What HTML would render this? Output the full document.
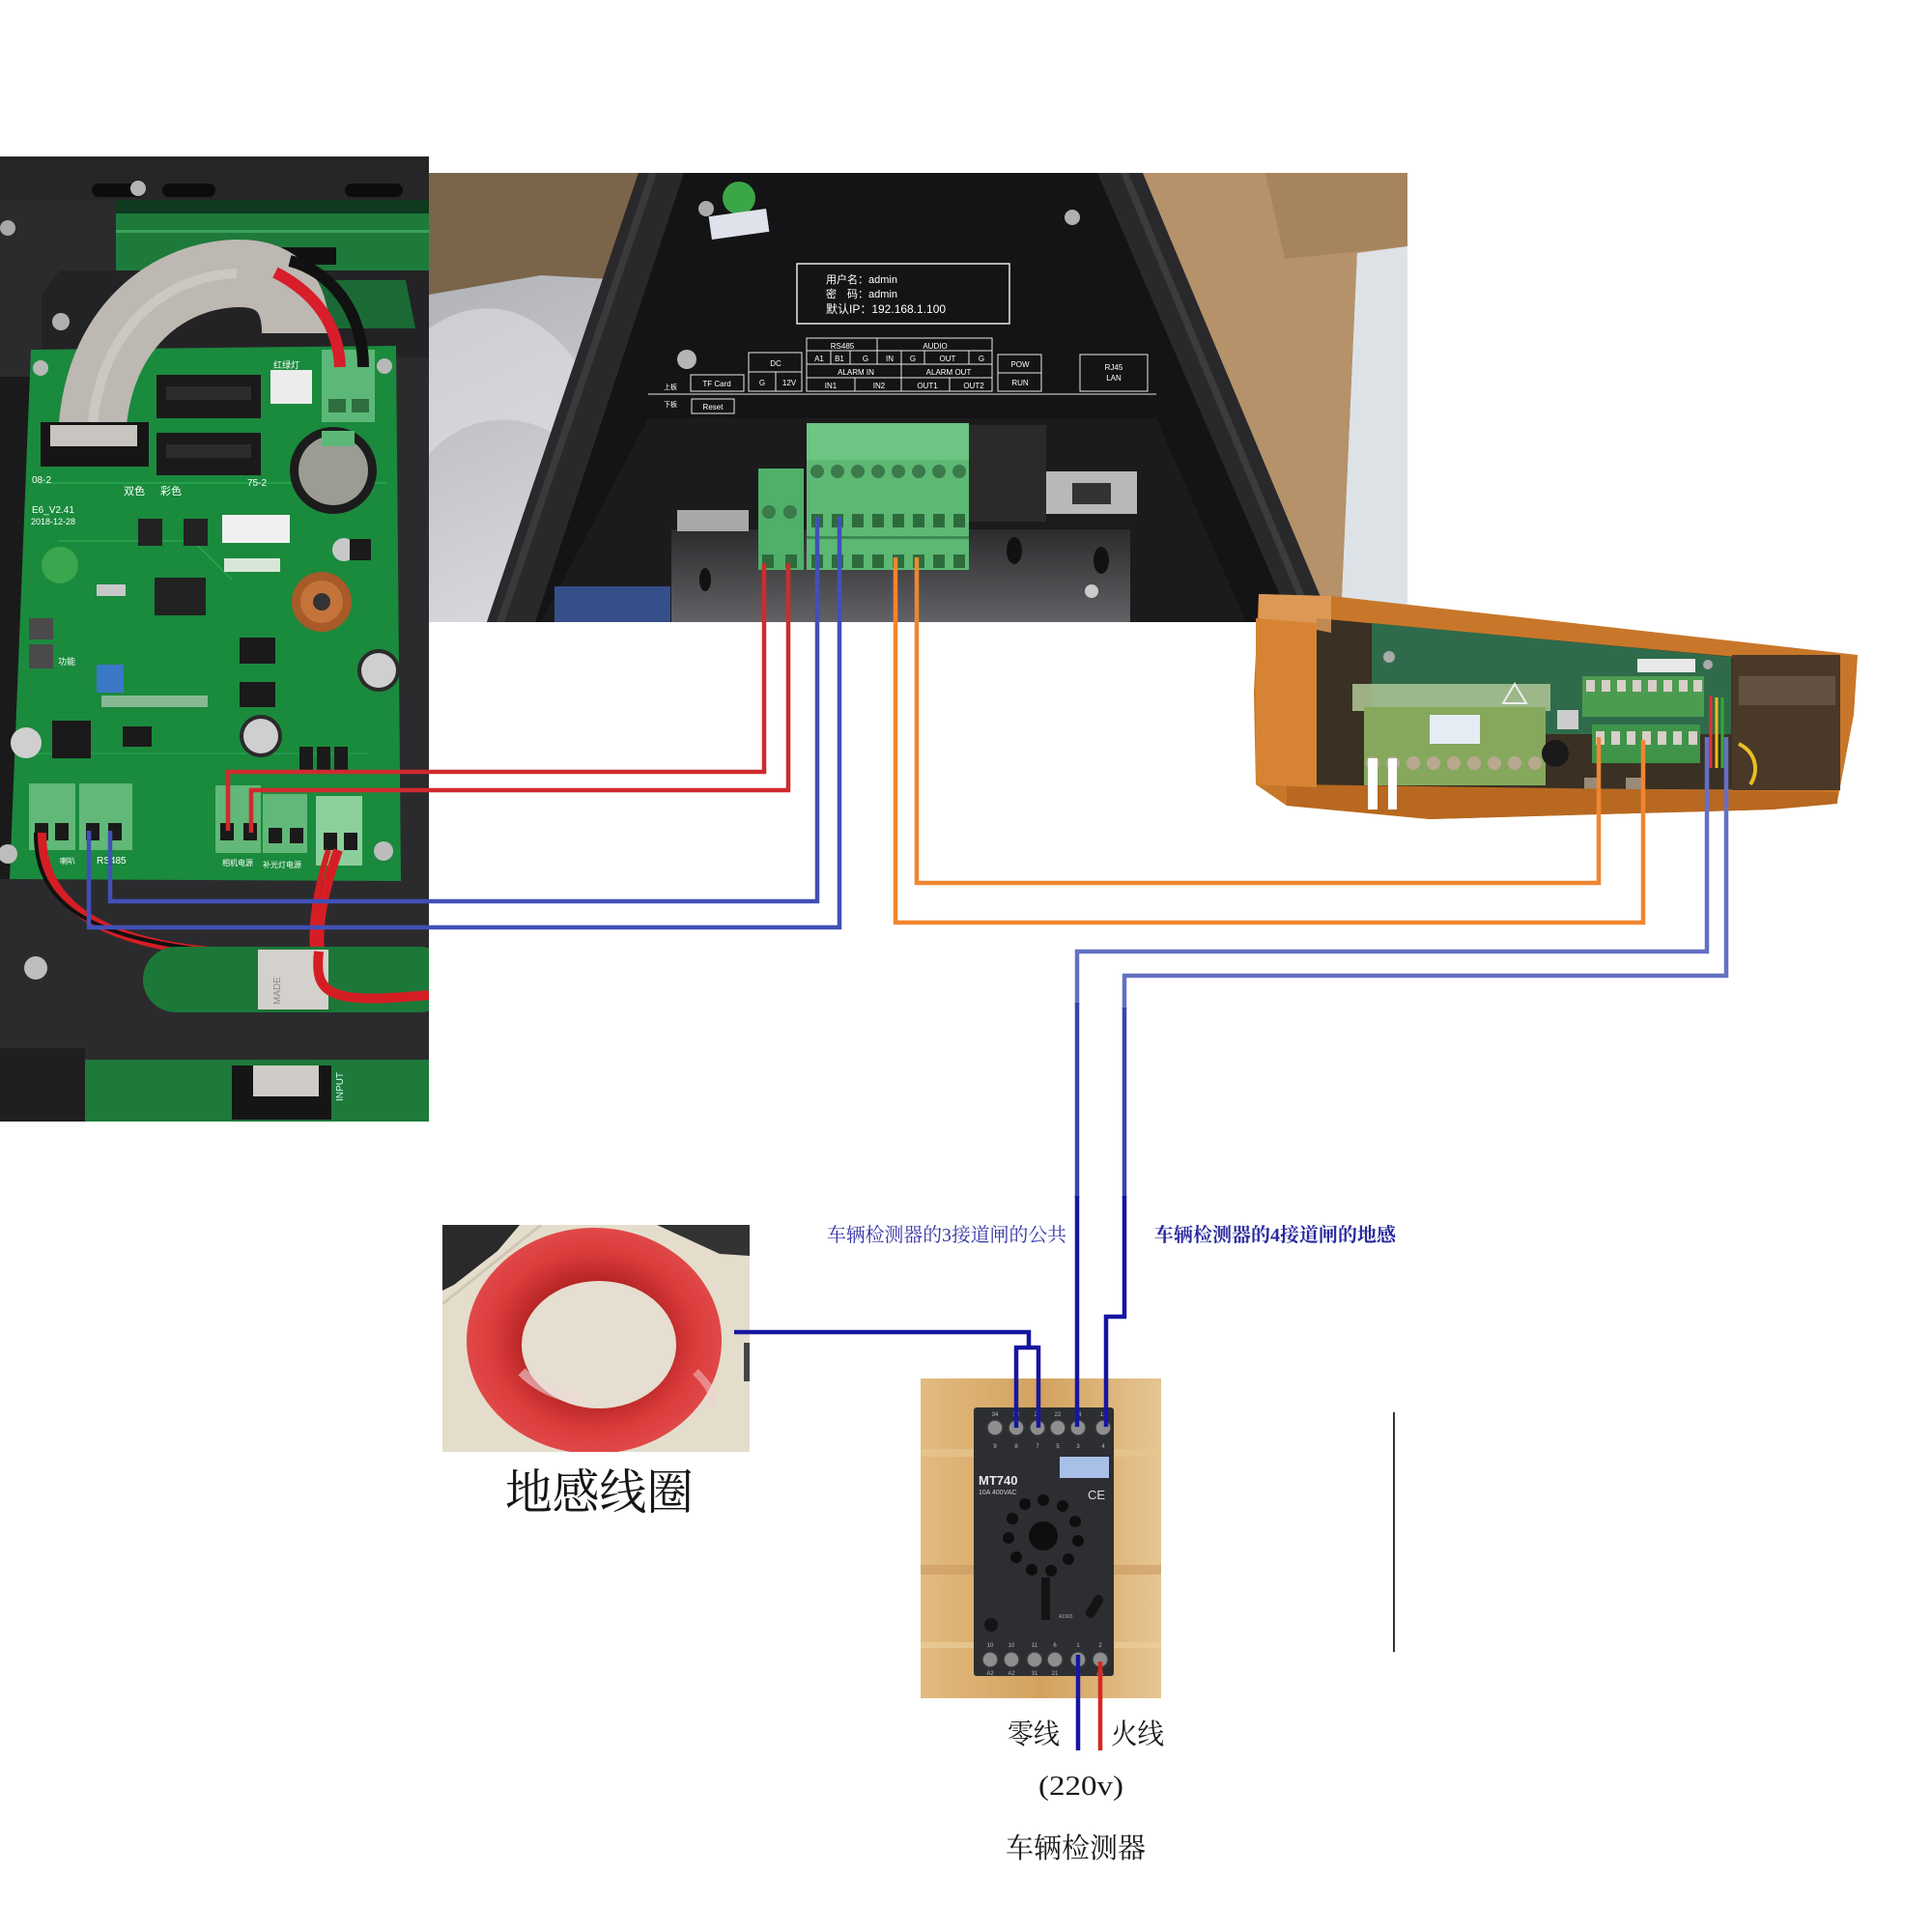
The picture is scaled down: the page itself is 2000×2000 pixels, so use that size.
<!DOCTYPE html>
<html><head><meta charset="utf-8">
<style>
html,body{margin:0;padding:0;background:#fff;}
svg{display:block}
</style></head>
<body>
<svg width="2000" height="2000" viewBox="0 0 2000 2000" xmlns="http://www.w3.org/2000/svg" font-family="'Liberation Sans','Noto Sans CJK SC',sans-serif">
<defs>
  <clipPath id="cb"><rect x="0" y="162" width="444" height="999"/></clipPath>
  <clipPath id="cc"><rect x="444" y="179" width="1013" height="465"/></clipPath>
  <clipPath id="cl"><rect x="458" y="1268" width="318" height="235"/></clipPath>
  <clipPath id="cr"><rect x="953" y="1427" width="249" height="331"/></clipPath>
  <linearGradient id="bag" x1="0" y1="0" x2="1" y2="1">
    <stop offset="0" stop-color="#a6a8ae"/><stop offset="0.5" stop-color="#d4d5d9"/><stop offset="1" stop-color="#eeeef0"/>
  </linearGradient>
  <linearGradient id="wood" x1="0" y1="0" x2="1" y2="0">
    <stop offset="0" stop-color="#e2bb80"/><stop offset="0.5" stop-color="#d3a25e"/><stop offset="1" stop-color="#e6c592"/>
  </linearGradient>
  <linearGradient id="plate" x1="0" y1="0" x2="0" y2="1">
    <stop offset="0" stop-color="#2c2c2e"/><stop offset="1" stop-color="#626266"/>
  </linearGradient>
  <radialGradient id="coil" cx="0.5" cy="0.5" r="0.5">
    <stop offset="0.55" stop-color="#b82626"/><stop offset="0.8" stop-color="#dc3c3c"/><stop offset="1" stop-color="#e04848"/>
  </radialGradient>
</defs>

<rect width="2000" height="2000" fill="#ffffff"/>

<!-- ================= LEFT BOARD PHOTO ================= -->
<g clip-path="url(#cb)">
  <rect x="0" y="162" width="444" height="999" fill="#2b2b2e"/>
  <rect x="0" y="162" width="444" height="45" fill="#262628"/>
  <rect x="95" y="190" width="55" height="14" rx="7" fill="#0c0c0c"/>
  <rect x="168" y="190" width="55" height="14" rx="7" fill="#0c0c0c"/>
  <rect x="357" y="190" width="60" height="14" rx="7" fill="#0c0c0c"/>
  <circle cx="143" cy="195" r="8" fill="#b4b4b4"/>
  <circle cx="8" cy="236" r="8" fill="#a8a8a8"/>
  <rect x="120" y="207" width="324" height="76" fill="#1e7a3b"/>
  <rect x="120" y="207" width="324" height="14" fill="#0f3a1f"/>
  <rect x="120" y="238" width="324" height="3" fill="#3aa35a"/>
  <rect x="258" y="256" width="90" height="18" fill="#111"/>
  <path d="M43 305 L62 280 L444 280 L444 370 L43 370 Z" fill="#232325"/>
  <path d="M290 290 L420 290 L430 340 L300 340 Z" fill="#1b6a35"/>
  <circle cx="63" cy="333" r="9" fill="#b0b0b0"/>
  <rect x="0" y="390" width="32" height="520" fill="#1a1a1b"/>
  <path d="M32 362 L410 358 L415 912 L10 910 Z" fill="#1a8a3d"/>
  <path d="M40 500 L400 500" stroke="#24a04a" stroke-width="2"/>
  <path d="M60 560 L200 560 L240 600" stroke="#24a04a" stroke-width="2" fill="none"/>
  <path d="M30 780 L380 780" stroke="#22984a" stroke-width="2"/>
  <circle cx="398" cy="379" r="8" fill="#b8b8b8"/>
  <circle cx="42" cy="381" r="8" fill="#b8b8b8"/>
  <path d="M95 470 C 92 345, 170 285, 245 283 C 292 282, 306 310, 306 345" stroke="#bdb8b2" stroke-width="70" fill="none"/>
  <path d="M95 470 C 92 345, 170 285, 245 283" stroke="#d6d2cc" stroke-width="10" fill="none" opacity="0.6"/>
  <rect x="42" y="437" width="112" height="46" fill="#151515"/>
  <rect x="52" y="440" width="90" height="22" fill="#c8c4c0"/>
  <rect x="162" y="388" width="108" height="45" fill="#1a1a1a"/>
  <rect x="162" y="448" width="108" height="44" fill="#1a1a1a"/>
  <rect x="172" y="400" width="88" height="14" fill="#2c2c2c"/>
  <rect x="172" y="460" width="88" height="14" fill="#2c2c2c"/>
  <rect x="280" y="383" width="43" height="35" fill="#ececec"/>
  <rect x="333" y="362" width="55" height="75" fill="#5cb878"/>
  <rect x="340" y="413" width="18" height="14" fill="#2f6e3e"/>
  <rect x="364" y="413" width="18" height="14" fill="#2f6e3e"/>
  <path d="M352 380 C 350 330, 320 300, 285 282" stroke="#d81e2a" stroke-width="12" fill="none"/>
  <path d="M376 380 C 376 320, 340 280, 300 270" stroke="#111" stroke-width="12" fill="none"/>
  <circle cx="345" cy="487" r="45" fill="#1c1c1c"/>
  <circle cx="345" cy="487" r="36" fill="#9c9c94"/>
  <rect x="333" y="446" width="34" height="16" fill="#5cb878"/>
  <rect x="230" y="533" width="70" height="29" fill="#f0f0f0"/>
  <rect x="143" y="537" width="25" height="28" fill="#222"/>
  <rect x="190" y="537" width="25" height="28" fill="#222"/>
  <rect x="160" y="598" width="53" height="39" fill="#222"/>
  <rect x="232" y="578" width="58" height="14" fill="#d8e6d8"/>
  <rect x="100" y="605" width="30" height="12" fill="#c8c8c8"/>
  <circle cx="333" cy="623" r="31" fill="#a85a28"/>
  <circle cx="333" cy="623" r="22" fill="#c4743a"/>
  <circle cx="333" cy="623" r="9" fill="#333"/>
  <circle cx="356" cy="569" r="12" fill="#c8c8c8"/>
  <rect x="362" y="558" width="22" height="22" fill="#1a1a1a"/>
  <text x="33" y="500" font-size="10" fill="#fff">08-2</text>
  <text x="128" y="512" font-size="11" fill="#fff">双色</text>
  <text x="166" y="512" font-size="11" fill="#fff">彩色</text>
  <text x="256" y="503" font-size="10" fill="#fff">75-2</text>
  <text x="283" y="381" font-size="9" fill="#fff">红绿灯</text>
  <text x="33" y="531" font-size="10" fill="#fff">E6_V2.41</text>
  <text x="32" y="543" font-size="9" fill="#fff">2018-12-28</text>
  <circle cx="62" cy="585" r="19" fill="#3aa64e"/>
  <rect x="30" y="667" width="25" height="25" fill="#4a4a4a"/>
  <rect x="30" y="640" width="25" height="22" fill="#4a4a4a"/>
  <text x="60" y="688" font-size="9" fill="#fff">功能</text>
  <rect x="100" y="688" width="28" height="29" fill="#3a78c8"/>
  <circle cx="392" cy="694" r="22" fill="#2a2a2a"/>
  <circle cx="392" cy="694" r="18" fill="#cfcfcf"/>
  <circle cx="270" cy="762" r="22" fill="#2a2a2a"/>
  <circle cx="270" cy="762" r="18" fill="#cfcfcf"/>
  <circle cx="27" cy="769" r="16" fill="#cfcfcf"/>
  <rect x="54" y="746" width="40" height="39" fill="#1a1a1a"/>
  <rect x="127" y="752" width="30" height="21" fill="#1a1a1a"/>
  <rect x="248" y="660" width="37" height="27" fill="#1a1a1a"/>
  <rect x="248" y="706" width="37" height="26" fill="#1a1a1a"/>
  <rect x="310" y="773" width="14" height="24" fill="#1a1a1a"/>
  <rect x="328" y="773" width="14" height="24" fill="#1a1a1a"/>
  <rect x="346" y="773" width="14" height="24" fill="#1a1a1a"/>
  <rect x="105" y="720" width="110" height="12" fill="#cfd8cf" opacity="0.6"/>
  <rect x="30" y="811" width="48" height="69" fill="#62b878"/>
  <rect x="82" y="811" width="55" height="69" fill="#62b878"/>
  <rect x="223" y="813" width="47" height="70" fill="#62b878"/>
  <rect x="272" y="822" width="46" height="61" fill="#62b878"/>
  <rect x="327" y="824" width="48" height="72" fill="#8ccf9c"/>
  <rect x="36" y="852" width="14" height="18" fill="#1a1a1a"/><rect x="57" y="852" width="14" height="18" fill="#1a1a1a"/>
  <rect x="89" y="852" width="14" height="18" fill="#1a1a1a"/><rect x="112" y="852" width="14" height="18" fill="#1a1a1a"/>
  <rect x="228" y="852" width="14" height="18" fill="#1a1a1a"/><rect x="252" y="852" width="14" height="18" fill="#1a1a1a"/>
  <rect x="278" y="857" width="14" height="16" fill="#1a1a1a"/><rect x="300" y="857" width="14" height="16" fill="#1a1a1a"/>
  <rect x="335" y="862" width="14" height="18" fill="#1a1a1a"/><rect x="356" y="862" width="14" height="18" fill="#1a1a1a"/>
  <text x="62" y="894" font-size="8" fill="#fff">喇叭</text>
  <text x="100" y="894" font-size="10" fill="#fff">RS485</text>
  <text x="230" y="896" font-size="8" fill="#fff">相机电源</text>
  <text x="272" y="898" font-size="8" fill="#fff">补光灯电源</text>
  <circle cx="8" cy="884" r="10" fill="#bdbdbd"/>
  <circle cx="397" cy="881" r="10" fill="#bdbdbd"/>
  <path d="M43 862 C 42 940, 110 975, 217 985" stroke="#d41e24" stroke-width="10" fill="none"/>
  <path d="M37 862 C 36 940, 100 968, 200 982" stroke="#111" stroke-width="4" fill="none"/>
  <path d="M350 880 C 325 950, 318 1020, 365 1025 L444 1015" stroke="#d41e24" stroke-width="10" fill="none"/>
  <path d="M340 880 C 318 950, 312 1025, 360 1032 L444 1024" stroke="#d41e24" stroke-width="6" fill="none"/>
  <circle cx="37" cy="1002" r="12" fill="#bdbdbd"/>
  <rect x="148" y="980" width="320" height="68" rx="34" fill="#1c7838"/>
  <rect x="267" y="983" width="73" height="62" fill="#d4d0cb"/>
  <path d="M330 985 C 325 1030, 340 1040, 444 1030" stroke="#d41e24" stroke-width="10" fill="none"/>
  <rect x="88" y="1097" width="356" height="64" fill="#1d7a3a"/>
  <rect x="0" y="1085" width="88" height="76" fill="#1f1f21"/>
  <rect x="240" y="1103" width="103" height="56" fill="#151515"/>
  <rect x="262" y="1103" width="68" height="32" fill="#cfcbc6"/>
  <text x="355" y="1140" font-size="10" fill="#cfe" transform="rotate(-90 355 1140)">INPUT</text>
  <text x="290" y="1040" font-size="10" fill="#888" transform="rotate(-90 290 1040)">MADE</text>
</g>

<!-- ================= CAMERA PHOTO ================= -->
<g clip-path="url(#cc)">
  <rect x="444" y="179" width="1013" height="465" fill="url(#bag)"/>
  <path d="M444 179 L665 179 L650 290 L560 285 L444 305 Z" fill="#7a654a"/>
  <path d="M444 340 C 500 300, 560 320, 600 380 L 590 460 C 540 420, 480 430, 444 470 Z" fill="#e6e6ea" opacity="0.5"/>
  <path d="M444 179 L1183 179 L1378 644 L504 644 Z" fill="none"/>
  <path d="M661 179 L1183 179 L1378 644 L504 644 Z" fill="#141416"/>
  <path d="M661 179 L708 179 L554 644 L504 644 Z" fill="#29292b"/>
  <path d="M672 179 L680 179 L522 644 L514 644 Z" fill="#3a3a3c"/>
  <path d="M1136 179 L1183 179 L1378 644 L1337 644 Z" fill="#29292b"/>
  <path d="M1160 179 L1168 179 L1362 644 L1354 644 Z" fill="#3c3c3e"/>
  <path d="M1183 179 L1457 179 L1457 255 L1405 262 L1388 644 L1378 644 Z" fill="#b5926a"/>
  <path d="M1310 179 L1457 179 L1457 255 L1330 268 Z" fill="#a6845e"/>
  <path d="M1405 262 L1457 255 L1457 644 L1388 644 Z" fill="#dde2e7"/>
  <circle cx="765" cy="205" r="17" fill="#3aa648"/>
  <rect x="735" y="220" width="60" height="24" fill="#dfe2ea" transform="rotate(-8 765 232)"/>
  <circle cx="731" cy="216" r="8" fill="#aaa"/>
  <circle cx="1110" cy="225" r="8" fill="#b0b0b0"/>
  <circle cx="711" cy="372" r="10" fill="#b5b5b5"/>
  <rect x="825" y="273" width="220" height="62" fill="none" stroke="#e8e8e8" stroke-width="1.5"/>
  <text x="855" y="293" font-size="11" fill="#fff">用户名：admin</text>
  <text x="855" y="308" font-size="11" fill="#fff">密　码：admin</text>
  <text x="855" y="324" font-size="12" fill="#fff">默认IP：192.168.1.100</text>
  <g stroke="#e8e8e8" stroke-width="1" fill="none">
    <rect x="835" y="350" width="192" height="55"/>
    <line x1="835" y1="363" x2="1027" y2="363"/>
    <line x1="835" y1="377" x2="1027" y2="377"/>
    <line x1="835" y1="391" x2="1027" y2="391"/>
    <line x1="908" y1="350" x2="908" y2="363"/>
    <line x1="860" y1="363" x2="860" y2="377"/><line x1="880" y1="363" x2="880" y2="377"/>
    <line x1="908" y1="363" x2="908" y2="377"/><line x1="933" y1="363" x2="933" y2="377"/>
    <line x1="957" y1="363" x2="957" y2="377"/><line x1="1003" y1="363" x2="1003" y2="377"/>
    <line x1="933" y1="377" x2="933" y2="391"/>
    <line x1="885" y1="391" x2="885" y2="405"/><line x1="933" y1="391" x2="933" y2="405"/><line x1="983" y1="391" x2="983" y2="405"/>
    <rect x="775" y="365" width="55" height="40"/>
    <line x1="775" y1="385" x2="830" y2="385"/><line x1="803" y1="385" x2="803" y2="405"/>
    <rect x="1033" y="367" width="45" height="38"/>
    <line x1="1033" y1="386" x2="1078" y2="386"/>
    <rect x="1118" y="367" width="70" height="38"/>
    <rect x="715" y="388" width="55" height="17"/>
    <rect x="716" y="413" width="44" height="15"/>
    <line x1="671" y1="408" x2="1197" y2="408"/>
  </g>
  <g font-size="8" fill="#fff" text-anchor="middle">
    <text x="872" y="361">RS485</text><text x="968" y="361">AUDIO</text>
    <text x="848" y="374">A1</text><text x="869" y="374">B1</text><text x="896" y="374">G</text>
    <text x="921" y="374">IN</text><text x="945" y="374">G</text><text x="981" y="374">OUT</text><text x="1016" y="374">G</text>
    <text x="886" y="388">ALARM IN</text><text x="982" y="388">ALARM OUT</text>
    <text x="860" y="402">IN1</text><text x="910" y="402">IN2</text><text x="960" y="402">OUT1</text><text x="1008" y="402">OUT2</text>
    <text x="803" y="379">DC</text><text x="789" y="399">G</text><text x="817" y="399">12V</text>
    <text x="1056" y="380">POW</text><text x="1056" y="399">RUN</text>
    <text x="1153" y="383">RJ45</text><text x="1153" y="394">LAN</text>
    <text x="742" y="400">TF Card</text><text x="738" y="424">Reset</text>
    <text x="694" y="403" font-size="7">上板</text><text x="694" y="421" font-size="7">下板</text>
  </g>
  <path d="M671 433 L1197 433 L1290 644 L560 644 Z" fill="#1b1b1c"/>
  <rect x="695" y="548" width="475" height="96" fill="url(#plate)"/>
  <rect x="701" y="528" width="74" height="22" fill="#a8a8a8"/>
  <rect x="1003" y="440" width="80" height="100" fill="#2a2a28"/>
  <rect x="1083" y="488" width="94" height="44" fill="#b8b8b8"/>
  <rect x="1110" y="500" width="40" height="22" fill="#333"/>
  <ellipse cx="1050" cy="570" rx="8" ry="14" fill="#111"/>
  <ellipse cx="1140" cy="580" rx="8" ry="14" fill="#111"/>
  <circle cx="1130" cy="612" r="7" fill="#ccc"/>
  <ellipse cx="730" cy="600" rx="6" ry="12" fill="#111"/>
  <rect x="574" y="607" width="120" height="37" fill="#3c5ca8" opacity="0.8"/>
  <rect x="835" y="438" width="168" height="152" fill="#5db874"/>
  <rect x="835" y="438" width="168" height="38" fill="#6cc583"/>
  <g fill="#3b7a4b">
    <circle cx="846" cy="488" r="7"/><circle cx="867" cy="488" r="7"/><circle cx="888" cy="488" r="7"/><circle cx="909" cy="488" r="7"/>
    <circle cx="930" cy="488" r="7"/><circle cx="951" cy="488" r="7"/><circle cx="972" cy="488" r="7"/><circle cx="993" cy="488" r="7"/>
  </g>
  <g fill="#2e6b3c">
    <rect x="840" y="532" width="12" height="14"/><rect x="861" y="532" width="12" height="14"/><rect x="882" y="532" width="12" height="14"/><rect x="903" y="532" width="12" height="14"/>
    <rect x="924" y="532" width="12" height="14"/><rect x="945" y="532" width="12" height="14"/><rect x="966" y="532" width="12" height="14"/><rect x="987" y="532" width="12" height="14"/>
    <rect x="840" y="574" width="12" height="14"/><rect x="861" y="574" width="12" height="14"/><rect x="882" y="574" width="12" height="14"/><rect x="903" y="574" width="12" height="14"/>
    <rect x="924" y="574" width="12" height="14"/><rect x="945" y="574" width="12" height="14"/><rect x="966" y="574" width="12" height="14"/><rect x="987" y="574" width="12" height="14"/>
  </g>
  <rect x="835" y="555" width="168" height="3" fill="#3e8a52"/>
  <rect x="785" y="485" width="47" height="105" fill="#4fb06a"/>
  <circle cx="796" cy="530" r="7" fill="#3b7a4b"/><circle cx="818" cy="530" r="7" fill="#3b7a4b"/>
  <rect x="789" y="574" width="12" height="14" fill="#2e6b3c"/><rect x="813" y="574" width="12" height="14" fill="#2e6b3c"/>
</g>

<!-- ================= ORANGE DEVICE ================= -->
<g>
  <path d="M1303 615 L1378 617 L1923 678 L1919 740 L1902 830 L1835 838 L1480 848 L1332 834 L1300 812 L1298 717 Z" fill="#c8772a"/>
  <path d="M1363 640 L1905 690 L1902 818 L1363 815 Z" fill="#3a3024"/>
  <path d="M1420 645 L1792 680 L1792 760 L1420 760 Z" fill="#2f6b4b"/>
  <path d="M1303 615 L1378 617 L1378 655 L1303 640 Z" fill="#e4a060" opacity="0.8"/>
  <rect x="1400" y="708" width="205" height="28" fill="#a8c090" opacity="0.9"/>
  <rect x="1412" y="732" width="188" height="81" fill="#86a85c"/>
  <rect x="1480" y="740" width="52" height="30" fill="#e6ecf4"/>
  <g fill="#b8a890">
    <circle cx="1421" cy="790" r="7"/><circle cx="1442" cy="790" r="7"/><circle cx="1463" cy="790" r="7"/><circle cx="1484" cy="790" r="7"/>
    <circle cx="1505" cy="790" r="7"/><circle cx="1526" cy="790" r="7"/><circle cx="1547" cy="790" r="7"/><circle cx="1568" cy="790" r="7"/><circle cx="1589" cy="790" r="7"/>
  </g>
  <path d="M1568 708 L1580 728 L1556 728 Z" fill="none" stroke="#eee" stroke-width="2"/>
  <rect x="1612" y="735" width="22" height="20" fill="#ccc"/>
  <circle cx="1610" cy="780" r="14" fill="#1a1a1a"/>
  <rect x="1638" y="700" width="126" height="42" fill="#4c9c50"/>
  <rect x="1648" y="750" width="112" height="40" fill="#3f9449"/>
  <g fill="#d8cfc8">
    <rect x="1642" y="704" width="9" height="12"/><rect x="1658" y="704" width="9" height="12"/><rect x="1674" y="704" width="9" height="12"/><rect x="1690" y="704" width="9" height="12"/>
    <rect x="1706" y="704" width="9" height="12"/><rect x="1722" y="704" width="9" height="12"/><rect x="1738" y="704" width="9" height="12"/><rect x="1753" y="704" width="9" height="12"/>
    <rect x="1652" y="757" width="9" height="14"/><rect x="1668" y="757" width="9" height="14"/><rect x="1684" y="757" width="9" height="14"/><rect x="1700" y="757" width="9" height="14"/>
    <rect x="1716" y="757" width="9" height="14"/><rect x="1732" y="757" width="9" height="14"/><rect x="1748" y="757" width="9" height="14"/>
  </g>
  <rect x="1695" y="682" width="60" height="14" fill="#e8e8e8"/>
  <circle cx="1768" cy="688" r="5" fill="#aaa"/>
  <circle cx="1438" cy="680" r="6" fill="#aaa"/>
  <rect x="1640" y="805" width="16" height="14" fill="#9a8a78"/><rect x="1683" y="805" width="16" height="14" fill="#9a8a78"/>
  <rect x="1793" y="678" width="112" height="140" fill="#4a3828"/>
  <rect x="1800" y="700" width="100" height="30" fill="#6a5848" opacity="0.8"/>
  <path d="M1771 720 L1771 795" stroke="#d33" stroke-width="3"/>
  <path d="M1777 722 L1777 795" stroke="#e8c020" stroke-width="3"/>
  <path d="M1783 722 L1783 795" stroke="#3a3" stroke-width="3"/>
  <path d="M1800 770 C 1820 780, 1820 800, 1812 812" stroke="#e8c020" stroke-width="4" fill="none"/>
  <path d="M1332 812 L1902 820 L1902 832 L1835 838 L1480 848 L1332 834 Z" fill="#b86820"/>
  <path d="M1300 640 L1363 645 L1363 815 L1300 812 Z" fill="#d68434"/>
  <rect x="1416" y="785" width="10" height="53" fill="#fff"/>
  <rect x="1437" y="785" width="9" height="53" fill="#fff"/>
</g>

<!-- ================= COIL PHOTO ================= -->
<g clip-path="url(#cl)">
  <rect x="458" y="1268" width="318" height="235" fill="#e5ddcc"/>
  <path d="M458 1350 L560 1268" stroke="#cfc6b4" stroke-width="3"/>
  <path d="M458 1268 L538 1268 L515 1295 L470 1330 L458 1336 Z" fill="#2a2a2a"/>
  <path d="M680 1268 L776 1268 L776 1300 L745 1298 Z" fill="#333"/>
  <rect x="770" y="1390" width="6" height="40" fill="#444"/>
  <ellipse cx="615" cy="1388" rx="132" ry="117" fill="url(#coil)"/>
  <ellipse cx="620" cy="1392" rx="80" ry="66" fill="#e6ded0"/>
  <path d="M540 1420 C 560 1440, 590 1450, 600 1445" stroke="#f0d8d8" stroke-width="10" fill="none" opacity="0.6"/>
  <path d="M720 1420 C 740 1440, 740 1450, 735 1455" stroke="#f0d0d0" stroke-width="8" fill="none" opacity="0.5"/>
</g>

<!-- ================= RELAY PHOTO ================= -->
<g clip-path="url(#cr)">
  <rect x="953" y="1427" width="249" height="331" fill="url(#wood)"/>
  <rect x="953" y="1500" width="249" height="8" fill="#e8c892" opacity="0.6"/>
  <rect x="953" y="1620" width="249" height="10" fill="#c8945a" opacity="0.5"/>
  <rect x="953" y="1700" width="249" height="6" fill="#ecd0a0" opacity="0.6"/>
  <rect x="1008" y="1457" width="145" height="278" rx="3" fill="#2c2e32"/>
  <g fill="#8e8e8e" stroke="#3a3a3a" stroke-width="1.5">
    <circle cx="1030" cy="1478" r="8"/><circle cx="1052" cy="1478" r="8"/><circle cx="1074" cy="1478" r="8"/>
    <circle cx="1095" cy="1478" r="8"/><circle cx="1116" cy="1478" r="8"/><circle cx="1142" cy="1478" r="8"/>
    <circle cx="1025" cy="1718" r="8"/><circle cx="1047" cy="1718" r="8"/><circle cx="1071" cy="1718" r="8"/>
    <circle cx="1092" cy="1718" r="8"/><circle cx="1116" cy="1718" r="8"/><circle cx="1139" cy="1718" r="8"/>
  </g>
  <g font-size="6" fill="#bbb" text-anchor="middle">
    <text x="1030" y="1466">34</text><text x="1052" y="1466">32</text><text x="1074" y="1466">21</text><text x="1095" y="1466">22</text><text x="1116" y="1466">14</text><text x="1142" y="1466">12</text>
    <text x="1030" y="1499">9</text><text x="1052" y="1499">8</text><text x="1074" y="1499">7</text><text x="1095" y="1499">5</text><text x="1116" y="1499">3</text><text x="1142" y="1499">4</text>
    <text x="1025" y="1705">10</text><text x="1047" y="1705">10</text><text x="1071" y="1705">11</text><text x="1092" y="1705">6</text><text x="1116" y="1705">1</text><text x="1139" y="1705">2</text>
    <text x="1025" y="1734">A2</text><text x="1047" y="1734">A2</text><text x="1071" y="1734">31</text><text x="1092" y="1734">21</text><text x="1116" y="1734">11</text><text x="1139" y="1734">A1</text>
  </g>
  <rect x="1097" y="1508" width="51" height="22" fill="#a8c0e8"/>
  <text x="1013" y="1537" font-size="13" font-weight="bold" fill="#e8e8f0">MT740</text>
  <text x="1013" y="1547" font-size="7" fill="#ccc">10A 400VAC</text>
  <text x="1126" y="1552" font-size="13" fill="#ddd">CE</text>
  <circle cx="1080" cy="1590" r="15" fill="#0e0e0e"/>
  <g fill="#0e0e0e">
    <circle cx="1080" cy="1553" r="6"/><circle cx="1100" cy="1559" r="6"/><circle cx="1113" cy="1575" r="6"/>
    <circle cx="1116" cy="1595" r="6"/><circle cx="1106" cy="1614" r="6"/><circle cx="1088" cy="1626" r="6"/>
    <circle cx="1068" cy="1625" r="6"/><circle cx="1052" cy="1612" r="6"/><circle cx="1044" cy="1592" r="6"/>
    <circle cx="1048" cy="1572" r="6"/><circle cx="1061" cy="1557" r="6"/>
  </g>
  <rect x="1078" y="1633" width="9" height="44" fill="#141414"/>
  <circle cx="1026" cy="1682" r="7" fill="#141414"/>
  <rect x="1128" y="1650" width="10" height="26" rx="5" fill="#141414" transform="rotate(30 1133 1663)"/>
  <text x="1096" y="1675" font-size="5" fill="#aaa">A1903</text>
</g>

<!-- ================= WIRES ================= -->
<g fill="none" stroke-linejoin="miter" stroke-width="4.5">
  <polyline points="791,583 791,799 236,799 236,860" stroke="#d02a2e"/>
  <polyline points="816,583 816,818 260,818 260,862" stroke="#d02a2e"/>
  <polyline points="846,535 846,933 114,933 114,860" stroke="#4150b8"/>
  <polyline points="869,535 869,960 92,960 92,860" stroke="#4150b8"/>
  <polyline points="949,577 949,914 1655,914 1655,763" stroke="#f08630"/>
  <polyline points="927,577 927,955 1701,955 1701,766" stroke="#f08630"/>
  <polyline points="1767,763 1767,985 1115,985 1115,1040" stroke="#6470c2"/>
  <polyline points="1787,763 1787,1010 1164,1010 1164,1045" stroke="#6470c2"/>
  <polyline points="1115,1038 1115,1240" stroke="#3a44b0"/>
  <polyline points="1164,1043 1164,1240" stroke="#3a44b0"/>
  <polyline points="1115,1238 1115,1477" stroke="#1616a2"/>
  <polyline points="1164,1238 1164,1363 1145,1363 1145,1477" stroke="#1616a2"/>
  <polyline points="760,1379 1065,1379 1065,1395" stroke="#1616a2"/>
  <polyline points="1052,1478 1052,1395 1075,1395 1075,1478" stroke="#1616a2"/>
  <polyline points="1116,1713 1116,1812" stroke="#1616a2"/>
  <polyline points="1139,1720 1139,1812" stroke="#d8261e"/>
</g>
<line x1="1443" y1="1462" x2="1443" y2="1710" stroke="#333" stroke-width="2"/>

<!-- ================= LABELS ================= -->
<text x="856" y="1285" font-size="20" fill="#3636a6" font-family="'Liberation Serif','Noto Serif CJK SC',serif" textLength="248" lengthAdjust="spacingAndGlyphs">车辆检测器的3接道闸的公共</text>
<text x="1195" y="1285" font-size="20" font-weight="bold" fill="#2a2a9e" font-family="'Liberation Serif','Noto Serif CJK SC',serif" textLength="250" lengthAdjust="spacingAndGlyphs">车辆检测器的4接道闸的地感</text>
<text x="523" y="1562" font-size="50" fill="#151515" font-family="'Liberation Serif','Noto Serif CJK SC',serif" textLength="195" lengthAdjust="spacingAndGlyphs">地感线圈</text>
<text x="1043" y="1805" font-size="29" fill="#1a1a1a" font-family="'Liberation Serif','Noto Serif CJK SC',serif" textLength="54" lengthAdjust="spacingAndGlyphs">零线</text>
<text x="1150" y="1805" font-size="29" fill="#1a1a1a" font-family="'Liberation Serif','Noto Serif CJK SC',serif" textLength="55" lengthAdjust="spacingAndGlyphs">火线</text>
<text x="1075" y="1858" font-size="28" fill="#1a1a1a" font-family="'Liberation Serif','Noto Serif CJK SC',serif" textLength="88" lengthAdjust="spacingAndGlyphs">(220v)</text>
<text x="1041" y="1923" font-size="29" fill="#1a1a1a" font-family="'Liberation Serif','Noto Serif CJK SC',serif" textLength="145" lengthAdjust="spacingAndGlyphs">车辆检测器</text>
</svg>
</body></html>
